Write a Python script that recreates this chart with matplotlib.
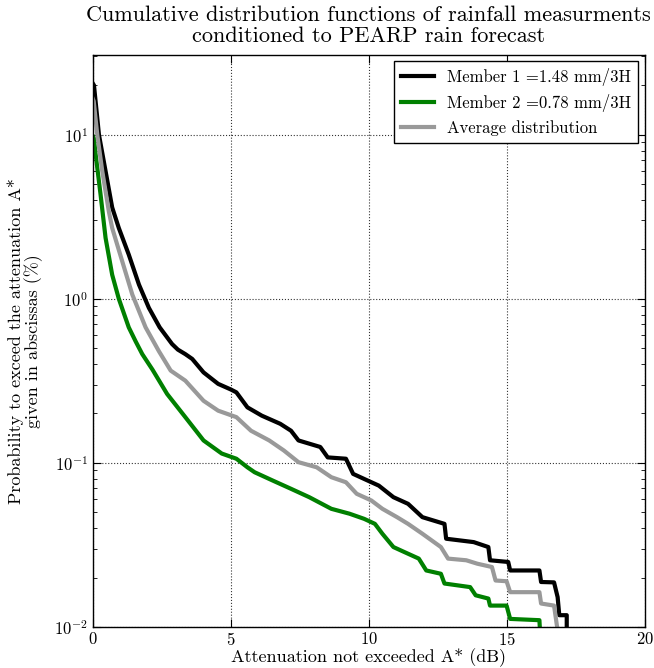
import matplotlib
matplotlib.use("Agg")
import matplotlib.pyplot as plt
from matplotlib.ticker import FixedLocator

plt.rcParams['font.family'] = ['cmr10', 'DejaVu Serif']
plt.rcParams['mathtext.fontset'] = 'cm'
plt.rcParams['axes.unicode_minus'] = False
plt.rcParams['axes.formatter.use_mathtext'] = True

# Member 1 (black)
m1_x = [0, 0.04, 0.22, 0.46, 0.70, 0.94, 1.30, 1.67, 2.03, 2.42, 2.87, 3.08, 3.35, 3.60,
        4.01, 4.54, 5.00, 5.20, 5.60, 6.12, 6.79, 7.18, 7.45, 8.24, 8.51, 9.17, 9.43, 9.96,
        10.36, 10.89, 11.42, 11.94, 12.74, 12.80, 13.80, 14.33, 14.39, 15.05, 15.12, 16.18,
        16.24, 16.71, 16.84, 16.90, 17.17, 17.17]
m1_y = [20.5, 20, 10, 6.0, 3.6, 2.7, 1.86, 1.22, 0.88, 0.67, 0.53, 0.49, 0.46, 0.43,
        0.356, 0.303, 0.28, 0.269, 0.218, 0.194, 0.173, 0.157, 0.137, 0.125, 0.108, 0.106,
        0.0857, 0.078, 0.0727, 0.0618, 0.0563, 0.0467, 0.0425, 0.0345, 0.0329, 0.0307,
        0.0255, 0.0249, 0.0221, 0.0221, 0.0188, 0.0187, 0.0152, 0.0118, 0.0118, 0.0095]

# Member 2 (green)
m2_x = [0, 0.04, 0.10, 0.28, 0.46, 0.70, 0.94, 1.30, 1.55, 1.79, 2.16, 2.69, 3.35, 4.01,
        4.67, 5.20, 5.60, 5.86, 6.52, 7.18, 7.84, 8.64, 9.30, 9.83, 10.22, 10.49, 10.89,
        11.29, 11.81, 12.08, 12.61, 12.74, 13.67, 13.87, 14.33, 14.39, 14.99, 15.12, 16.18,
        16.20]
m2_y = [9.8, 9.5, 7.6, 4.3, 2.35, 1.4, 1.0, 0.67, 0.55, 0.46, 0.37, 0.263, 0.190, 0.137,
        0.114, 0.106, 0.094, 0.0877, 0.078, 0.0695, 0.0618, 0.0525, 0.049, 0.0456, 0.0425,
        0.037, 0.0307, 0.0286, 0.0261, 0.0221, 0.0211, 0.0184, 0.0175, 0.0156, 0.0149,
        0.0135, 0.0135, 0.0112, 0.011, 0.0095]

# Average distribution (gray)
av_x = [0, 0.03, 0.16, 0.34, 0.58, 0.70, 1.06, 1.43, 1.91, 2.39, 2.82, 3.35, 4.01, 4.54,
        5.20, 5.73, 6.39, 6.92, 7.45, 8.11, 8.64, 9.17, 9.56, 10.09, 10.49, 11.02, 11.42,
        11.94, 12.61, 12.87, 13.53, 13.93, 14.46, 14.59, 14.99, 15.12, 16.18, 16.24, 16.71,
        16.84]
av_y = [16.5, 16, 10, 6.0, 3.4, 2.7, 1.7, 1.06, 0.67, 0.48, 0.365, 0.317, 0.239, 0.208,
        0.190, 0.157, 0.137, 0.119, 0.101, 0.094, 0.0818, 0.0762, 0.0648, 0.059, 0.0525,
        0.0467, 0.0425, 0.037, 0.0307, 0.0261, 0.0255, 0.0243, 0.0232, 0.0192, 0.019,
        0.0163, 0.0163, 0.0139, 0.0135, 0.0095]

labels = ["Member 1 =1.48 mm/3H", "Member 2 =0.78 mm/3H", "Average distribution"]
x_ticks = [0, 5, 10, 15, 20]

fig = plt.figure(figsize=(6.54, 6.68), dpi=100)
ax = fig.add_axes([0.142, 0.0614, 0.844, 0.857])

ax.plot(m1_x, m1_y, color='black', lw=3, label=labels[0])
ax.plot(m2_x, m2_y, color='#008000', lw=3, label=labels[1])
ax.plot(av_x, av_y, color='#999999', lw=3, label=labels[2])

ax.set_yscale('log')
ax.set_xlim(0, 20)
ax.set_ylim(0.01, 30.8)
ax.xaxis.set_major_locator(FixedLocator(x_ticks))
ax.grid(True, which='major', linestyle=':', color='black', linewidth=0.8, alpha=0.8)
ax.tick_params(which='both', direction='in', top=True, right=True, labelsize=12)
ax.tick_params(which='major', length=6)
ax.tick_params(which='minor', length=3)
ax.tick_params(axis='x', pad=3)
for s in ax.spines.values():
    s.set_linewidth(1.0)

ax.set_title("Cumulative distribution functions of rainfall measurments\nconditioned to PEARP rain forecast",
             fontsize=16, linespacing=1.1, pad=9)
ax.set_xlabel("Attenuation not exceeded A* (dB)", fontsize=13, labelpad=0)
ax.set_ylabel("Probability to exceed the attenuation A*\ngiven in abscissas (%)", fontsize=13,
              labelpad=8, linespacing=1.05)

leg = ax.legend(loc='upper right', fontsize=12, fancybox=False, framealpha=1,
                edgecolor='black', handlelength=2.0, borderaxespad=0.4)
leg.get_frame().set_linewidth(1.0)

fig.savefig("out.png", dpi=100)
